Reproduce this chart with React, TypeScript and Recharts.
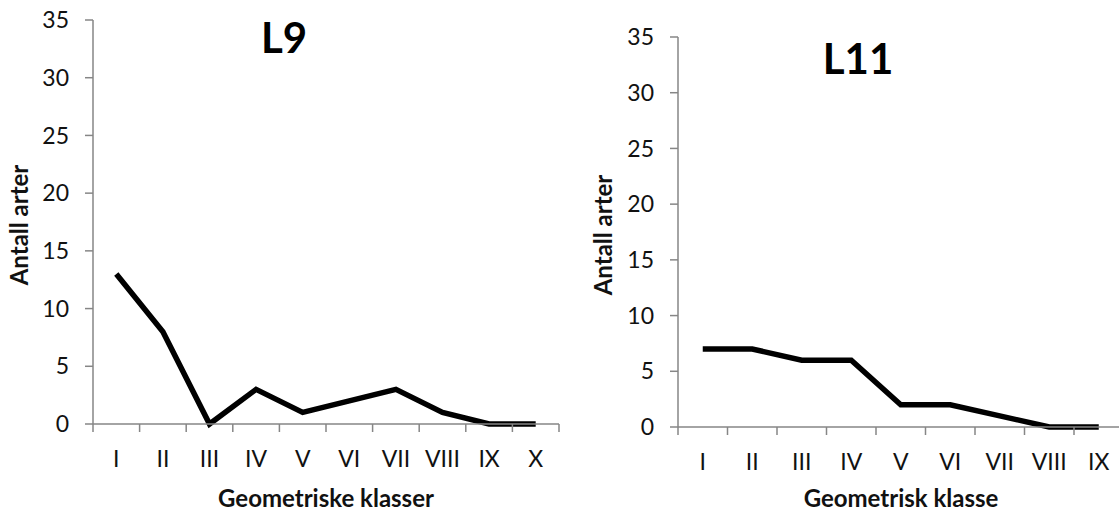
import { LineChart, Line, XAxis, YAxis } from "recharts";

const classesL9 = ["I", "II", "III", "IV", "V", "VI", "VII", "VIII", "IX", "X"];
const valuesL9 = [13, 8, 0, 3, 1, 2, 3, 1, 0, 0];

const classesL11 = ["I", "II", "III", "IV", "V", "VI", "VII", "VIII", "IX"];
const valuesL11 = [7, 7, 6, 6, 2, 2, 1, 0, 0];

const yTicks = [0, 5, 10, 15, 20, 25, 30, 35];

const FONT = "Lato, 'Open Sans', sans-serif";
const AXIS = "#868686";

interface TickProps {
  x?: number;
  y?: number;
  index?: number;
  payload?: { value: string };
  band: number;
  count: number;
}

function CategoryTick({ x = 0, y = 0, index = 0, payload, band, count }: TickProps) {
  const left = x - band / 2;
  return (
    <g>
      <line x1={left} x2={left} y1={y} y2={y + 8} stroke={AXIS} strokeWidth={1.5} />
      {index === count - 1 && (
        <line x1={x + band / 2} x2={x + band / 2} y1={y} y2={y + 8} stroke={AXIS} strokeWidth={1.5} />
      )}
      <text x={x} y={y + 43} textAnchor="middle" fontSize={23} fontFamily={FONT} fill="#111">
        {payload?.value}
      </text>
    </g>
  );
}

interface PanelProps {
  title: string;
  xTitle: string;
  classes: string[];
  values: number[];
  left: number;
  width: number;
  axisX: number;
  top: number;
  bottom: number;
  plotWidth: number;
  titleX: number;
  titleY: number;
  yTitleX: number;
  yTitleY: number;
  xTitleX: number;
}

function Panel(p: PanelProps) {
  const data = p.classes.map((c, i) => ({ klasse: c, antall: p.values[i] }));
  const band = p.plotWidth / p.classes.length;
  const marginRight = p.width - p.axisX - p.plotWidth;
  return (
    <div style={{ position: "absolute", left: p.left, top: 0, width: p.width, height: 515 }}>
      <LineChart
        width={p.width}
        height={515}
        data={data}
        margin={{ top: p.top, right: marginRight, bottom: 515 - p.bottom, left: 0 }}
      >
        <XAxis
          dataKey="klasse"
          scale="band"
          height={1}
          stroke={AXIS}
          strokeWidth={1.5}
          tickLine={false}
          tickSize={0}
          tickMargin={0}
          interval={0}
          tick={<CategoryTick band={band} count={p.classes.length} />}
        />
        <YAxis
          width={p.axisX}
          domain={[0, 35]}
          ticks={yTicks}
          interval={0}
          stroke={AXIS}
          strokeWidth={1.5}
          tickSize={8}
          tickMargin={16}
          tick={{ fontSize: 23, fontFamily: FONT, fill: "#111" }}
        />
        <Line
          dataKey="antall"
          stroke="#000"
          strokeWidth={5.5}
          dot={false}
          isAnimationActive={false}
        />
      </LineChart>
      <div
        style={{
          position: "absolute",
          left: p.titleX - 100,
          top: p.titleY - 30,
          width: 200,
          height: 60,
          lineHeight: "60px",
          textAlign: "center",
          fontFamily: FONT,
          fontWeight: 700,
          fontSize: 42,
          color: "#000",
        }}
      >
        {p.title}
      </div>
      <div
        style={{
          position: "absolute",
          left: p.yTitleX - 100,
          top: p.yTitleY - 15,
          width: 200,
          height: 30,
          lineHeight: "30px",
          textAlign: "center",
          transform: "rotate(-90deg)",
          fontFamily: FONT,
          fontWeight: 700,
          fontSize: 24,
          color: "#111",
        }}
      >
        Antall arter
      </div>
      <div
        style={{
          position: "absolute",
          left: p.xTitleX - 150,
          top: 498 - 15,
          width: 300,
          height: 30,
          lineHeight: "30px",
          textAlign: "center",
          fontFamily: FONT,
          fontWeight: 700,
          fontSize: 24,
          color: "#111",
        }}
      >
        {p.xTitle}
      </div>
    </div>
  );
}

export default function App() {
  return (
    <div
      style={{
        position: "absolute",
        left: 0,
        top: 0,
        width: 1119,
        height: 515,
        overflow: "hidden",
        background: "#fff",
      }}
    >
      <Panel
        title="L9"
        xTitle="Geometriske klasser"
        classes={classesL9}
        values={valuesL9}
        left={0}
        width={560}
        axisX={93}
        top={20}
        bottom={425}
        plotWidth={466}
        titleX={284}
        titleY={37}
        yTitleX={19}
        yTitleY={225}
        xTitleX={326}
      />
      <Panel
        title="L11"
        xTitle="Geometrisk klasse"
        classes={classesL11}
        values={valuesL11}
        left={560}
        width={566}
        axisX={118}
        top={37}
        bottom={428}
        plotWidth={445.5}
        titleX={298}
        titleY={58}
        yTitleX={43}
        yTitleY={235}
        xTitleX={341}
      />
    </div>
  );
}
